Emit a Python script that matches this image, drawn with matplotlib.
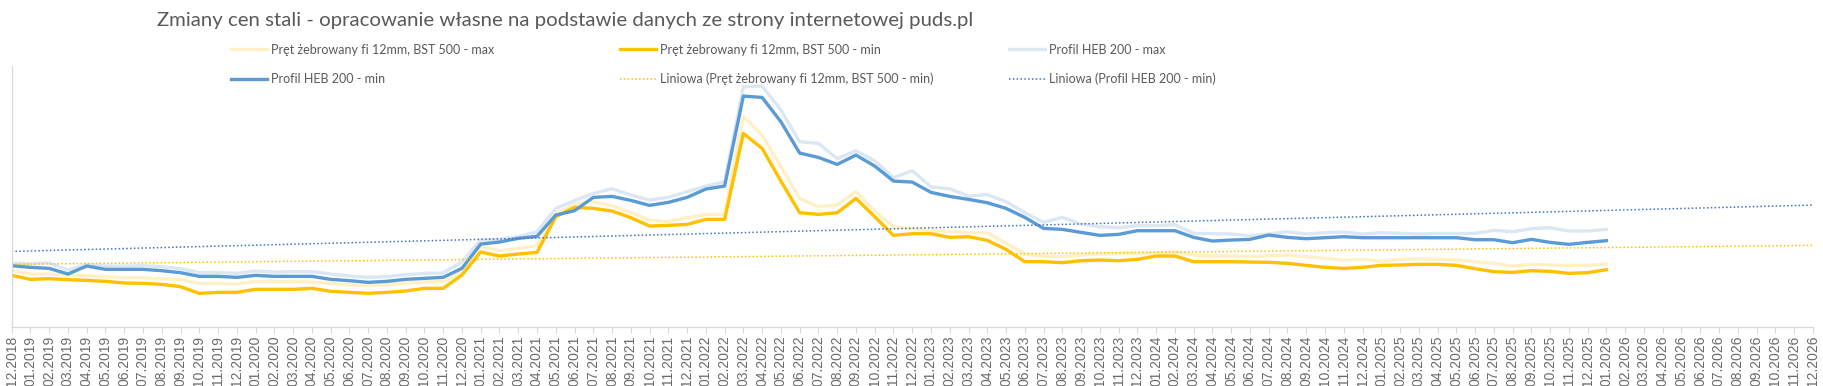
import numpy as np
import pandas as pd
import matplotlib
matplotlib.use('Agg')
from matplotlib import pyplot as plt

# monthly categories on the axis: 12.2018 ... 12.2026
months = pd.date_range('2018-12-01', '2026-12-01', freq='MS').strftime('%m.%Y').tolist()

# prices (data available up to 01.2026)
rebar_max = [1710, 1600, 1600, 1570, 1550, 1520, 1490, 1490, 1450, 1440,
             1320, 1320, 1300, 1380, 1380, 1370, 1360, 1320, 1270, 1250,
             1280, 1320, 1370, 1370, 1670, 2420, 2300, 2370, 2450, 3420,
             3700, 3770, 3650, 3440, 3220, 3170, 3290, 3390, 3390, 6340,
             5770, 4820, 3870, 3620, 3670, 4070, 3490, 3020, 2970, 2900,
             2870, 2840, 2840, 2520, 2200, 2140, 2120, 2170, 2200, 2220,
             2220, 2240, 2260, 2170, 2140, 2140, 2120, 2140, 2170, 2120,
             2070, 2020, 2040, 1990, 2040, 2060, 2040, 2020, 1970, 1920,
             1840, 1890, 1870, 1860, 1860, 1900]

rebar_min = [1560, 1440, 1460, 1430, 1410, 1380, 1330, 1320, 1290, 1220,
             1020, 1050, 1050, 1140, 1140, 1140, 1170, 1080, 1050, 1020,
             1050, 1090, 1170, 1170, 1570, 2260, 2140, 2200, 2250, 3320,
             3600, 3570, 3490, 3290, 3040, 3060, 3090, 3240, 3240, 5820,
             5370, 4390, 3440, 3390, 3440, 3870, 3320, 2760, 2810, 2810,
             2700, 2720, 2610, 2340, 1970, 1970, 1940, 2000, 2020, 2000,
             2040, 2140, 2140, 1970, 1970, 1970, 1960, 1950, 1920, 1860,
             1800, 1770, 1800, 1860, 1870, 1890, 1890, 1860, 1760, 1670,
             1650, 1700, 1680, 1620, 1640, 1730]

heb_max = [1920, 1910, 1930, 1720, 1890, 1840, 1840, 1850, 1820, 1760,
           1640, 1640, 1620, 1690, 1660, 1670, 1670, 1600, 1540, 1500,
           1520, 1580, 1620, 1630, 1970, 2620, 2640, 2720, 2870, 3570,
           3800, 4020, 4160, 3970, 3820, 3900, 4070, 4240, 4370, 7220,
           7240, 6520, 5570, 5520, 5060, 5300, 5000, 4490, 4700, 4220,
           4160, 3940, 3980, 3770, 3440, 3150, 3300, 3100, 3020, 2990,
           3050, 3050, 3080, 2820, 2810, 2800, 2750, 2800, 2870, 2800,
           2840, 2860, 2800, 2840, 2820, 2800, 2820, 2820, 2820, 2910,
           2870, 2960, 2990, 2890, 2890, 2940]

heb_min = [1850, 1800, 1770, 1600, 1840, 1740, 1740, 1740, 1700, 1640,
           1530, 1530, 1500, 1560, 1530, 1530, 1530, 1440, 1400, 1350,
           1380, 1440, 1470, 1500, 1770, 2500, 2560, 2670, 2730, 3370,
           3500, 3900, 3930, 3810, 3660, 3750, 3900, 4150, 4240, 6940,
           6900, 6170, 5230, 5100, 4890, 5170, 4840, 4390, 4360, 4050,
           3930, 3840, 3740, 3570, 3300, 2970, 2940, 2850, 2760, 2790,
           2900, 2900, 2900, 2700, 2590, 2620, 2640, 2770, 2700, 2660,
           2690, 2720, 2690, 2690, 2690, 2690, 2690, 2690, 2630, 2630,
           2540, 2640, 2550, 2490, 2550, 2600]

title = 'Zmiany cen stali - opracowanie własne na podstawie danych ze strony internetowej puds.pl'
labels = ['Pręt żebrowany fi 12mm, BST 500 - max',
          'Pręt żebrowany fi 12mm, BST 500 - min',
          'Profil HEB 200 - max',
          'Profil HEB 200 - min',
          'Liniowa (Pręt żebrowany fi 12mm, BST 500 - min)',
          'Liniowa (Profil HEB 200 - min)']

GREY = '#595959'
AXIS = '#D9D9D9'
FONT = ['Lato', 'DejaVu Sans']

fig = plt.figure(figsize=(18.23, 3.86), dpi=100)
renderer = fig.canvas.get_renderer()


def fit_size(text, width_px, size=10):
    # font size giving the text the pixel width it has in the original
    t = fig.text(0, 0, text, fontsize=size, family=FONT)
    w = t.get_window_extent(renderer=renderer).width
    t.remove()
    return size * width_px / w


ax = fig.add_axes([0.0064, 0.152, 0.988, 0.678])

x_all = np.arange(len(months))
x_dat = np.arange(len(heb_min))

l1, = ax.plot(x_dat, rebar_max, color='#FFF0C6', lw=2.4, solid_joinstyle='round')
l2, = ax.plot(x_dat, rebar_min, color='#FFC000', lw=2.4, solid_joinstyle='round')
l3, = ax.plot(x_dat, heb_max, color='#DCE7F4', lw=2.4, solid_joinstyle='round')
l4, = ax.plot(x_dat, heb_min, color='#5B9BD5', lw=2.4, solid_joinstyle='round')

# linear trendlines (least squares, extended to the end of the axis)
a, b = np.polyfit(x_dat, rebar_min, 1)
l5, = ax.plot(x_all, a * x_all + b, color='#FFC000', lw=1.1, ls=(0, (1, 1.5)))
a, b = np.polyfit(x_dat, heb_min, 1)
l6, = ax.plot(x_all, a * x_all + b, color='#4472C4', lw=1.1, ls=(0, (1, 1.5)))

ax.set_xlim(0, len(months) - 1)
ax.set_ylim(0, 7855)
ax.set_xticks(x_all)
ax.set_xticklabels(months, rotation=90, fontsize=10, color='#6A6A6A',
                   family=['Liberation Sans', 'DejaVu Sans'])
ax.set_yticks([])
ax.tick_params(axis='x', length=4, width=0.8, color=AXIS, pad=2)
for s in ['top', 'right']:
    ax.spines[s].set_visible(False)
for s in ['left', 'bottom']:
    ax.spines[s].set_color(AXIS)
    ax.spines[s].set_linewidth(0.9)

fig.text(0.0861, 0.948, title, fontsize=fit_size(title, 815),
         color=GREY, va='center', ha='left', family=FONT)

# legend: three columns of two rows, placed like the original
leg_size = (fit_size(labels[0], 220) + fit_size(labels[4], 276)) / 2
fs_px = leg_size * 100 / 72
handles = [l1, l2, l3, l4, l5, l6]
col_x = [0.1267, 0.3401, 0.5535]
for c in range(3):
    fig.legend([handles[c], handles[c + 3]], [labels[c], labels[c + 3]],
               loc='center left', bbox_to_anchor=(col_x[c], 0.833),
               frameon=False, borderpad=0, borderaxespad=0,
               handlelength=36 / fs_px, handletextpad=4 / fs_px,
               labelspacing=(29.0 - 0.94 * fs_px) / fs_px,
               prop={'family': FONT, 'size': leg_size},
               labelcolor=GREY)

fig.savefig('out.png', dpi=100, facecolor='white')
